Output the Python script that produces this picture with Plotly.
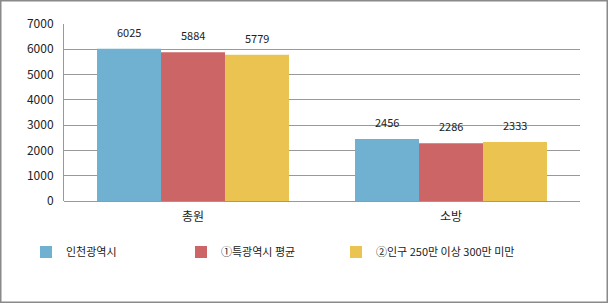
import plotly.graph_objects as go

categories = ["총원", "소방"]
series_names = ["인천광역시", "①특광역시 평균", "②인구 250만 이상 300만 미만"]
incheon = [6025, 2456]
metro_avg = [5884, 2286]
pop_group = [5779, 2333]
y_ticks = [0, 1000, 2000, 3000, 4000, 5000, 6000, 7000]

colors = ["#70B0D0", "#CC6565", "#EAC350"]
values = [incheon, metro_avg, pop_group]

W, H = 608, 303
ml, mr, mt, mb = 64, 28, 24, 102
pw, ph = W - ml - mr, H - mt - mb
bargap = 0.256

fig = go.Figure()
for k, (name, vals, col) in enumerate(zip(series_names, values, colors)):
    fig.add_trace(go.Bar(x=categories, y=vals, name=name, marker=dict(color=col, line=dict(width=0)),
                         legendwidth=(150 if k == len(values) - 1 else None)))

# data labels as annotations above each bar
bw = (1 - bargap) / len(values)
for j, vals in enumerate(values):
    for i, v in enumerate(vals):
        fig.add_annotation(x=i + (j - (len(values) - 1) / 2) * bw, y=v, text=str(v),
                           showarrow=False, yanchor="bottom", yshift=7, xref="x", yref="y",
                           font=dict(size=11, color="#222"))

# outer border
fig.add_shape(type="rect", xref="paper", yref="paper",
              x0=(0.75 - ml) / pw, x1=(W - 0.75 - ml) / pw,
              y0=-(mb - 0.75) / ph, y1=1 + (mt - 0.75) / ph,
              line=dict(color="#8a8a8a", width=1.5), fillcolor="rgba(0,0,0,0)", layer="below")

fig.update_layout(
    width=W, height=H, margin=dict(l=ml, r=mr, t=mt, b=mb),
    paper_bgcolor="white", plot_bgcolor="white",
    barmode="group", bargap=bargap, bargroupgap=0,
    font=dict(family="Noto Sans CJK KR, DejaVu Sans", size=12, color="#222"),
    showlegend=True,
    legend=dict(orientation="h", x=(26 - ml) / pw, xanchor="left", y=(H - mb - 252) / ph, yanchor="middle",
                entrywidth=110, entrywidthmode="pixels", itemwidth=30,
                font=dict(size=11, color="#222"), bgcolor="rgba(0,0,0,0)"),
    xaxis=dict(type="category", showline=False, showgrid=False, ticks="outside", ticklen=5,
               tickcolor="rgba(0,0,0,0)", tickfont=dict(size=12)),
    yaxis=dict(range=[0, 7000], tickvals=y_ticks, showgrid=True, gridcolor="#999999", gridwidth=1,
               showline=True, linecolor="#999999", linewidth=1, zeroline=True, zerolinecolor="#999999",
               zerolinewidth=1, ticks="", ticklabelstandoff=7, tickfont=dict(size=12)),
)

fig.write_html("out.html")
